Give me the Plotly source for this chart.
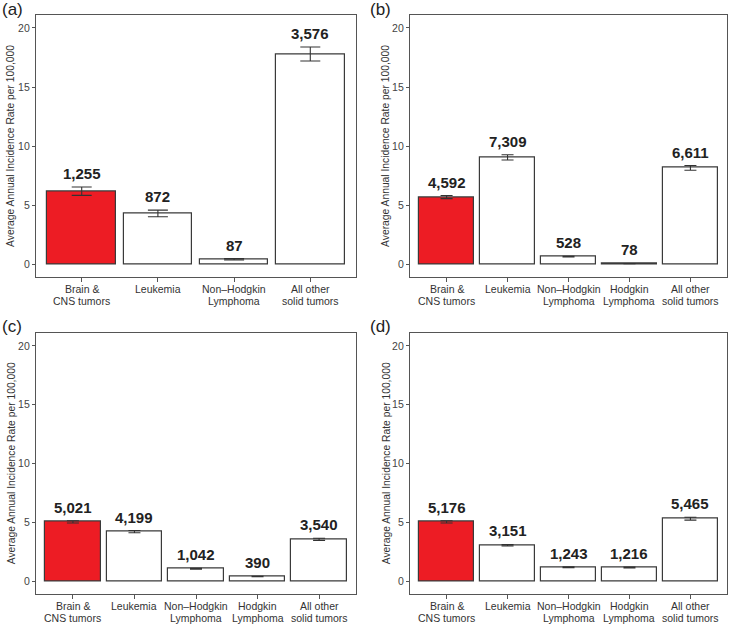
import plotly.graph_objects as go

# ---------------- data ----------------
cats_a = ["Brain &<br>CNS tumors", "Leukemia", "Non–Hodgkin<br>Lymphoma", "All other<br>solid tumors"]
cats_5 = ["Brain &<br>CNS tumors", "Leukemia", "Non–Hodgkin<br>Lymphoma", "Hodgkin<br>Lymphoma", "All other<br>solid tumors"]

rate_a = [6.2, 4.32, 0.44, 17.8]
err_a = [0.35, 0.28, 0.06, 0.59]
count_a = [1255, 872, 87, 3576]

rate_b = [5.7, 9.06, 0.67, 0.08, 8.17]
err_b = [0.13, 0.22, 0.03, 0.01, 0.2]
count_b = [4592, 7309, 528, 78, 6611]

rate_c = [5.05, 4.22, 1.06, 0.41, 3.57]
err_c = [0.1, 0.09, 0.04, 0.02, 0.09]
count_c = [5021, 4199, 1042, 390, 3540]

rate_d = [5.05, 3.07, 1.2, 1.18, 5.32]
err_d = [0.1, 0.06, 0.04, 0.04, 0.12]
count_d = [5176, 3151, 1243, 1216, 5465]

panel_letters = ["(a)", "(b)", "(c)", "(d)"]
y_ticks = [0, 5, 10, 15, 20]
y_title = "Average Annual Incidence Rate per 100,000"

# ---------------- styling ----------------
W, H = 731, 624
RED = "#ED1C24"
EDGE = "#3a3a3a"
AXC = "#555555"
FONT = "Liberation Sans, Arial, Helvetica, sans-serif"

panels = [
    (cats_a, rate_a, err_a, count_a, (36, 356), (14.5, 277.3), 10),
    (cats_5, rate_b, err_b, count_b, (410, 727), (14.5, 277.3), 6),
    (cats_5, rate_c, err_c, count_c, (36, 356), (332.5, 594), 6),
    (cats_5, rate_d, err_d, count_d, (410, 727), (332.5, 594), 6),
]

fig = go.Figure()
annotations = []
layout_axes = {}

for k, (cats, rate, err, cnt, (x0, x1), (y0, y1), capw) in enumerate(panels):
    n = len(cats)
    idx = "" if k == 0 else str(k + 1)
    xs = list(range(n))
    colors = [RED] + ["white"] * (n - 1)
    fig.add_trace(go.Bar(
        x=xs, y=rate, width=0.9,
        marker=dict(color=colors, line=dict(color=EDGE, width=1.2)),
        error_y=dict(type="data", array=err, visible=True, color="#333333",
                     thickness=1.1, width=capw),
        xaxis="x" + idx, yaxis="y" + idx, showlegend=False, hoverinfo="skip",
    ))
    for i in range(n):
        annotations.append(dict(
            x=i, y=rate[i] + err[i], xref="x" + idx, yref="y" + idx,
            text="<b>{:,}</b>".format(cnt[i]), showarrow=False,
            yanchor="bottom", xanchor="center", yshift=3,
            font=dict(size=15, color="#222222", family=FONT),
        ))
        # category labels, one annotation per line
        for j, line in enumerate(cats[i].split("<br>")):
            annotations.append(dict(
                x=i, y=1 - (y1 + 11.5 + 12 * j) / H, xref="x" + idx, yref="paper",
                text=line, showarrow=False, xanchor="center", yanchor="middle",
                font=dict(size=10.5, color="#333333", family=FONT),
            ))
    layout_axes["xaxis" + idx] = dict(
        domain=[x0 / W, x1 / W], anchor="y" + idx,
        range=[-0.6, n - 0.4], tickmode="array", tickvals=xs,
        showticklabels=False, automargin=False,
        showline=True, mirror=True, linecolor=AXC, linewidth=1.3,
        ticks="outside", ticklen=4, tickcolor=AXC, tickwidth=1,
        showgrid=False, zeroline=False, fixedrange=True,
    )
    layout_axes["yaxis" + idx] = dict(
        domain=[1 - y1 / H, 1 - y0 / H], anchor="x" + idx,
        range=[-1.08, 21.14], tickmode="array", tickvals=y_ticks,
        ticktext=[str(t) for t in y_ticks], automargin=False,
        showline=True, mirror=True, linecolor=AXC, linewidth=1.3,
        ticks="outside", ticklen=3, tickcolor=AXC, tickwidth=1,
        showgrid=False, zeroline=False, fixedrange=True,
        tickfont=dict(size=10.5, color="#444444", family=FONT),
    )
    # panel letter
    lx = 0 if x0 < 200 else 368
    ly = 10 if y0 < 200 else 326
    annotations.append(dict(
        x=lx / W, y=1 - ly / H, xref="paper", yref="paper",
        text=panel_letters[k], showarrow=False, xanchor="left", yanchor="middle",
        font=dict(size=17, color="#222222", family=FONT),
    ))
    # y-axis title
    tx = 11 if x0 < 200 else 386
    annotations.append(dict(
        x=tx / W, y=1 - ((y0 + y1) / 2) / H, xref="paper", yref="paper",
        text=y_title, showarrow=False, textangle=-90,
        xanchor="center", yanchor="middle",
        font=dict(size=10.3, color="#333333", family=FONT),
    ))

fig.update_layout(
    width=W, height=H,
    margin=dict(l=0, r=0, t=0, b=0),
    paper_bgcolor="white", plot_bgcolor="white",
    annotations=annotations,
    bargap=0,
    **layout_axes,
)

fig.write_html("out.html",
               config={"displayModeBar": False},
               post_script="document.body.style.margin='0';document.body.style.overflow='hidden';")
